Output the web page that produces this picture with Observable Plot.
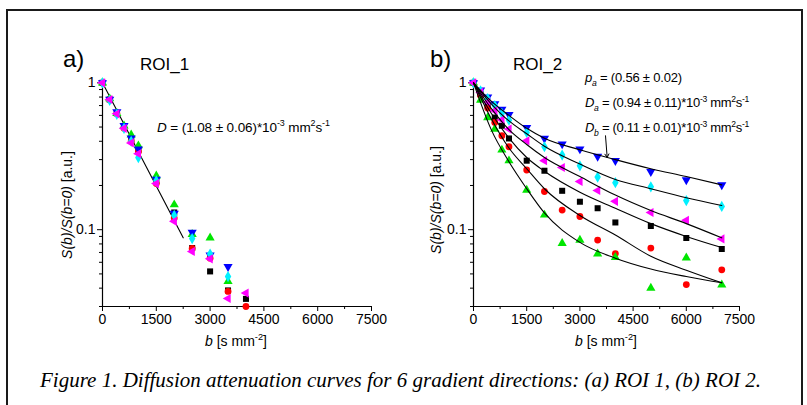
<!DOCTYPE html>
<html><head><meta charset="utf-8">
<script src="https://cdn.jsdelivr.net/npm/d3@7"></script>
<script src="https://cdn.jsdelivr.net/npm/@observablehq/plot@0.6"></script>
<style>
body{margin:0;background:#fff;width:807px;height:405px;overflow:hidden;position:relative;font-family:"Liberation Sans",Arial,sans-serif;color:#000}
#frame{position:absolute;left:6px;top:9px;width:793px;height:420px;border:2px solid #1a1a1a;border-bottom:none}
.plot{position:absolute}
#overlay{position:absolute;left:0;top:0}
</style></head><body>
<div id="frame"></div>
<div id="pa" class="plot" style="left:42px;top:48px"></div>
<div id="pb" class="plot" style="left:413px;top:48px"></div>
<svg id="overlay" width="807" height="405"></svg>
<script>
// ---------- data ----------
const xTicksMajor = [0, 1500, 3000, 4500, 6000, 7500];
const xTicksMinor = [750, 2250, 3750, 5250, 6750];
const yTicksMajor = [0.1, 1];
const yTicksMinor = [0.03, 0.04, 0.05, 0.06, 0.07, 0.08, 0.09, 0.2, 0.3, 0.4, 0.5, 0.6, 0.7, 0.8, 0.9];

// ROI 1 (panel a)
const bA = [0, 200, 400, 600, 800, 1000, 1500, 2000, 2500, 3000, 3500, 4000];
const roi1Black   = [1, 0.77, 0.62, 0.50, 0.41, 0.35, 0.215, 0.131, 0.075, 0.052, 0.0386, 0.0338];
const roi1Red     = [1, 0.77, 0.62, 0.49, 0.40, 0.34, 0.206, 0.120, 0.0746, 0.064, 0.038, 0.030];
const roi1Green   = [1, 0.78, 0.62, 0.51, 0.443, 0.373, 0.233, 0.148, 0.093, 0.088, 0.0445, null];
const roi1Blue    = [1, 0.77, 0.635, 0.51, 0.42, 0.354, 0.22, 0.129, 0.096, 0.067, 0.056, null];
const roi1Cyan    = [1, 0.76, 0.61, 0.49, 0.40, 0.31, 0.215, 0.125, 0.087, 0.0683, 0.048, null];
const roi1Magenta = [1, 0.77, 0.615, 0.49, 0.39, 0.329, 0.206, 0.114, 0.071, 0.0633, 0.034, 0.037];
const fitAb = [0, 2250];
const fitAv = [1, 0.088];

// ROI 2 (panel b)
const bB = [0, 200, 400, 600, 800, 1000, 1500, 2000, 2500, 3000, 3500, 4000, 5000, 6000, 7000];
const roi2Black   = [1, 0.84, 0.70, 0.58, 0.51, 0.418, 0.295, 0.252, 0.184, 0.155, 0.140, 0.112, 0.106, 0.0878, 0.0739];
const roi2Red     = [1, 0.82, 0.673, 0.537, 0.436, 0.367, 0.255, 0.182, 0.136, 0.123, 0.085, 0.0688, 0.075, 0.0423, 0.0533];
const roi2Green   = [1, 0.763, 0.58, 0.484, 0.349, 0.295, 0.186, 0.126, 0.0807, 0.085, 0.0685, 0.0649, 0.0401, 0.0644, 0.0421];
const roi2Blue    = [1, 0.89, 0.80, 0.72, 0.66, 0.606, 0.496, 0.418, 0.383, 0.354, 0.315, 0.295, 0.248, 0.218, 0.202];
const roi2Cyan    = [1, 0.88, 0.78, 0.70, 0.62, 0.557, 0.459, 0.367, 0.322, 0.272, 0.228, 0.209, 0.196, 0.158, 0.144];
const roi2Magenta = [1, 0.86, 0.74, 0.645, 0.56, 0.484, 0.403, 0.295, 0.265, 0.213, 0.185, 0.156, 0.131, 0.116, 0.0865];
const fitBb = [0, 500, 1000, 1500, 2000, 3000, 4000, 5000, 6000, 7000];
const fitBBlue    = [1, 0.75, 0.60, 0.49, 0.42, 0.35, 0.30, 0.26, 0.23, 0.202];
const fitBCyan    = [1, 0.72, 0.55, 0.45, 0.37, 0.28, 0.22, 0.19, 0.165, 0.146];
const fitBMagenta = [1, 0.67, 0.48, 0.38, 0.31, 0.23, 0.172, 0.135, 0.11, 0.088];
const fitBBlack   = [1, 0.62, 0.42, 0.31, 0.25, 0.18, 0.14, 0.11, 0.09, 0.0756];
const fitBRed     = [1, 0.57, 0.36, 0.26, 0.19, 0.125, 0.092, 0.066, 0.053, 0.0435];
const fitBGreen   = [1, 0.48, 0.29, 0.19, 0.13, 0.082, 0.064, 0.054, 0.048, 0.0435];
const arrowBb = [3722, 3769];
const arrowBv = [0.436, 0.31];

// ---------- styles ----------
const styles = [
  {fill: "#000000", symbol: "square", rotate: 0},
  {fill: "#ff0000", symbol: "circle", rotate: 0},
  {fill: "#00e600", symbol: "triangle", rotate: 0},
  {fill: "#0000ff", symbol: "triangle", rotate: 180},
  {fill: "#00f0ff", symbol: "diamond", rotate: 0},
  {fill: "#ff00ff", symbol: "triangle", rotate: -90}
];

function dotsFor(bs, vals, st) {
  const idx = vals.map((v, i) => i).filter(i => vals[i] != null);
  return Plot.dot(idx, {x: i => bs[i], y: i => vals[i], fill: st.fill, symbol: st.symbol, rotate: st.rotate, r: 3.4});
}
function lineFor(bs, vals) {
  return Plot.line(bs.map((b, i) => i), {x: i => bs[i], y: i => vals[i], stroke: "black", strokeWidth: 1.1, curve: "monotone-x"});
}
function axes() {
  return [
    Plot.ruleX([0], {stroke: "black", strokeWidth: 1.2}),
    Plot.ruleY([0.03], {stroke: "black", strokeWidth: 1.2}),
    Plot.axisX(xTicksMajor, {tickSize: 5, tickPadding: 3, tickFormat: d => String(d), fontSize: 14, label: null}),
    Plot.axisX(xTicksMinor, {tickSize: 3, tickFormat: () => "", label: null}),
    Plot.axisY(yTicksMajor, {tickSize: 5, tickPadding: 2, tickFormat: d => String(d), fontSize: 14, label: null}),
    Plot.axisY(yTicksMinor, {tickSize: 3, tickFormat: () => "", label: null})
  ];
}
function panel(width, marks) {
  return Plot.plot({
    width, height: 308, marginLeft: 60, marginRight: 20, marginTop: 30, marginBottom: 50,
    x: {domain: [0, 7500], label: null},
    y: {type: "log", domain: [0.03, 1.07], label: null},
    style: {fontFamily: "Liberation Sans, Arial, sans-serif", fontSize: "14px", background: "transparent", overflow: "visible", color: "black"},
    marks: [...axes(), ...marks]
  });
}

const roi1 = [roi1Black, roi1Red, roi1Green, roi1Blue, roi1Cyan, roi1Magenta];
const roi2 = [roi2Black, roi2Red, roi2Green, roi2Blue, roi2Cyan, roi2Magenta];
const fitsB = [fitBBlue, fitBCyan, fitBMagenta, fitBBlack, fitBRed, fitBGreen];

document.getElementById("pa").append(panel(349, [
  lineFor(fitAb, fitAv),
  ...roi1.map((v, k) => dotsFor(bA, v, styles[k]))
]));
document.getElementById("pb").append(panel(346, [
  ...roi2.map((v, k) => dotsFor(bB, v, styles[k])),
  ...fitsB.map(v => lineFor(fitBb, v)),
  Plot.arrow([0], {x1: arrowBb[0], y1: arrowBv[0], x2: arrowBb[1], y2: arrowBv[1], stroke: "black", strokeWidth: 1, headLength: 6, bend: 0})
]));

// ---------- text ----------
const ov = d3.select("#overlay");
function rich(x, y, size, parts, opt = {}) {
  const t = ov.append("text").attr("x", x).attr("y", y).attr("font-size", size)
    .attr("font-family", opt.family || "Liberation Sans, Arial, sans-serif")
    .attr("text-anchor", opt.anchor || "start").attr("fill", "black");
  if (opt.transform) t.attr("transform", opt.transform);
  if (opt.italic) t.attr("font-style", "italic");
  if (opt.spacing) t.attr("letter-spacing", opt.spacing);
  let shift = 0;
  for (const p of parts) {
    const [s, kind] = typeof p === "string" ? [p, ""] : p;
    let target = 0, fs = size;
    if (kind.includes("sup")) { target = -size * 0.42; fs = size * 0.66; }
    if (kind.includes("sub")) { target = size * 0.28; fs = size * 0.66; }
    const ts = t.append("tspan").attr("dy", target - shift).attr("font-size", fs).text(s);
    if (kind.includes("i")) ts.attr("font-style", "italic");
    shift = target;
  }
  return t;
}
const unitTail = [["-3", "sup"], " mm", ["2", "sup"], "s", ["-1", "sup"]];
rich(63, 67, 24, ["a)"]);
rich(140, 70, 17, ["ROI_1"]);
rich(430, 67, 24, ["b)"]);
rich(513, 70, 17, ["ROI_2"]);
rich(157, 132, 13.5, [["D", "i"], " = (1.08 ± 0.06)*10", ...unitTail], {spacing: -0.1});
rich(585, 82, 13, [["p", "i"], ["a", "sub i"], " = (0.56 ± 0.02)"], {spacing: -0.2});
rich(585, 107, 13, [["D", "i"], ["a", "sub i"], " = (0.94 ± 0.11)*10", ...unitTail], {spacing: -0.3});
rich(585, 132, 13, [["D", "i"], ["b", "sub i"], " = (0.11 ± 0.01)*10", ...unitTail], {spacing: -0.3});
rich(0, 0, 14, [["S(b)/S(b=0)", "i"], " [a.u.]"], {anchor: "middle", transform: "translate(72,205) rotate(-90)"});
rich(0, 0, 14, [["S(b)/S(b=0)", "i"], " [a.u.]"], {anchor: "middle", transform: "translate(441,200) rotate(-90)"});
rich(236, 346, 14, [["b", "i"], " [s mm", ["-2", "sup"], "]"], {anchor: "middle"});
rich(606, 346, 14, [["b", "i"], " [s mm", ["-2", "sup"], "]"], {anchor: "middle"});
rich(40, 387, 21, ["Figure 1. Diffusion attenuation curves for 6 gradient directions: (a) ROI 1, (b) ROI 2."],
  {family: "Liberation Serif, Times New Roman, serif", italic: true});
</script>
</body></html>
